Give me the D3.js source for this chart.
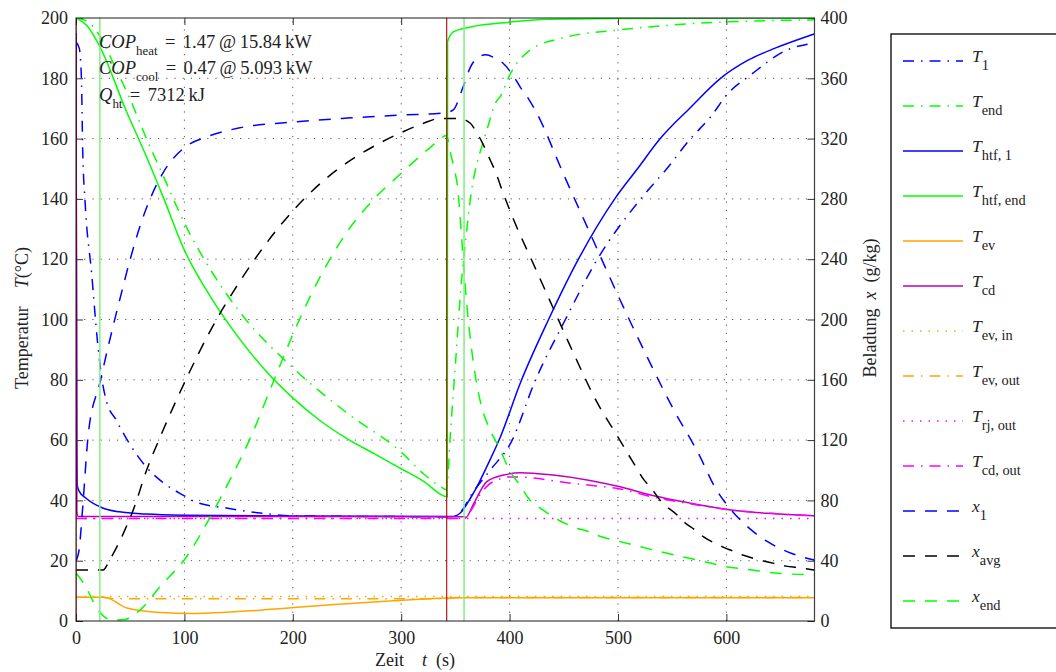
<!DOCTYPE html>
<html>
<head>
<meta charset="utf-8">
<script src="https://cdnjs.cloudflare.com/ajax/libs/d3/7.8.5/d3.min.js"></script>
<style>
  body { margin: 0; background: #fff; }
  svg text { font-family: "Liberation Serif", "DejaVu Serif", serif; fill: #222; }
</style>
</head>
<body>
<svg id="chart" width="1056" height="672"></svg>
<script>
// time axis ticks (s), temperature ticks (°C), loading ticks (g/kg)
const timeTicks = [0, 100, 200, 300, 400, 500, 600];
const tempTicks = [0, 20, 40, 60, 80, 100, 120, 140, 160, 180, 200];
const loadTicks = [0, 40, 80, 120, 160, 200, 240, 280, 320, 360, 400];

// phase markers (s)
const switchTimes = [0, 342];
const phaseTimes = [22, 358];

// temperatures [t (s), T (°C)]
const T_1 = [[0,192],[3,190],[5,180],[6.2,156],[8.3,139.6],[14.5,115],[20,92],[24,80],[28,73],[37,66.7],[49,59],[65,51],[80,46],[100,41.5],[110,39.5],[140,37.4],[170,35.8],[200,34.9],[340,34.6],[350,34.8],[355,36.2],[365,42],[382,50],[401,59],[424,80],[451.5,100],[481,120],[521,140],[545,150],[567,160],[585,167],[601,174.8],[622,181],[656,189.4],[681,191.7]];
const T_end = [[0,200],[10,199],[22,194],[37,183],[50,173],[65,160],[80,148],[100,132],[125,116],[150,103],[200,84],[250,69],[300,56],[320,49],[336,44.6],[342,43.5],[345,60],[350,85],[355,110],[360,128],[365,143],[370,152],[375,158],[380,164],[387,171.8],[391.5,174],[401,181.7],[419,189.4],[450,193.5],[500,196],[550,197.7],[600,198.7],[681,199.4]];
const T_htf1 = [[0,195],[0.7,60],[1.2,45],[3,43],[9,40.8],[24.6,37.5],[40,36.2],[64.6,35.5],[100,35.1],[200,34.8],[348,34.7],[355,36],[364,40.8],[372,46],[379,51.2],[391.5,61],[410,79],[436,100],[463.5,120],[497,140],[518,150],[539,160],[566,170],[594.6,180],[620,186],[645,190],[681,194.7]];
const T_htfEnd = [[0,200],[10,197.5],[22,190.5],[46,169.5],[65,154],[80,141],[100,123],[125,107],[150,94],[175,83],[200,74],[225,66.5],[250,60.5],[275,55.5],[300,50.5],[320,46.5],[342.5,41.2],[342.8,192.2],[348.5,195.5],[364,197],[400,198.6],[430,199.5],[500,199.8],[681,200]];
const T_ev = [[0,7.9],[25,7.9],[30,7.5],[47,4.3],[77.6,2.8],[108,2.5],[170,3.6],[231.5,5.3],[293,6.7],[342,7.6],[360,7.7],[681,7.7]];
const T_cd = [[0,195],[0.8,36],[2,34.7],[358,34.6],[359.5,34.3],[367,39],[379,46.2],[394.5,48.4],[410,49.2],[440,48.4],[471.6,46.8],[502,44.5],[530,41.8],[576,38.5],[601,37],[638,35.7],[681,34.9]];
const T_evIn = [[0,8.1],[681,8.1]];
const T_evOut = [[0,7.9],[25,7.9],[35,7.4],[342,7.4],[350,7.8],[681,7.8]];
const T_rjOut = [[0,34],[681,34]];
const T_cdOut = [[0,34],[358,34],[365,37],[372,41.5],[380,45],[390,47],[400,47.8],[420,47.5],[450,46],[480,44.8],[502,43.8],[530,41.3],[566,38.9],[600,37],[640,35.7],[681,34.9]];

// loadings [t (s), x (g/kg)]
const x_1 = [[0,40],[3,48],[6,73.6],[11.4,124.4],[22,158],[31,186],[41,215],[50,240],[60,264],[80,297],[100,314],[120,321],[150,327],[200,331],[250,333.6],[300,335.6],[340,337],[348,339],[357,354],[364,367.6],[371,374],[378,375.6],[386,373.6],[394,370],[404,361],[410,354],[416,348],[425,337],[450,296],[475,256],[500,216],[525,178],[550,142],[575,110],[590,88],[604,74],[621,61.6],[638,52.6],[656,46],[681,40.4]];
const x_avg = [[0,33.8],[25,33.8],[31,40.4],[43.6,58],[56,80],[62,93.6],[80,126],[100,158],[125,194],[150,224],[175,250],[200,272],[225,290],[250,304],[275,315],[300,324],[320,330],[336,333.4],[353,333.4],[364,330],[368,326],[375,317],[382,306],[387,298],[393,286],[405,264],[420,240],[440,208],[460,176],[480,146],[500,122],[515,104],[524,93.6],[530,88.8],[539,80],[555,70],[562,65],[570,61],[579,55.8],[587,52.4],[597,49],[606,46.4],[615,43.8],[624,41.8],[634,39.8],[643,38.4],[655,36.4],[666,35.4],[681,33.8]];
const x_end = [[0,31.8],[9,22.8],[18.5,9.4],[27.7,2],[35,0.6],[45,1],[59,7.2],[77.6,22.8],[102,42.6],[124,69.2],[142,93.6],[160,120],[180,155],[200,190],[225,228],[250,258],[275,280],[300,297],[320,310],[331.5,317],[342,322],[345,312],[348.5,301],[352,288],[356,252],[360,214],[365,180],[370,156],[375,140],[380,130],[391,114],[400,100],[410,89.6],[419,80],[430,74],[445,67],[462,61.6],[472,59.5],[484,56],[500,53],[521,49.2],[539,46],[556,43.2],[576,40],[597,36.4],[624,33.8],[643,32],[681,30.6]];

const DASHDOT = "11,7,1.5,7", DASH = "12,10", DOT = "1.5,7";
const series = [
  { data: T_1,      axis: "T", color: "#0000ff", dash: DASHDOT, base: "T", sub: "1" },
  { data: T_end,    axis: "T", color: "#00ff00", dash: DASHDOT, base: "T", sub: "end" },
  { data: T_htf1,   axis: "T", color: "#0000ff", dash: null,    base: "T", sub: "htf, 1" },
  { data: T_htfEnd, axis: "T", color: "#00ff00", dash: null,    base: "T", sub: "htf, end" },
  { data: T_ev,     axis: "T", color: "#ffa500", dash: null,    base: "T", sub: "ev" },
  { data: T_cd,     axis: "T", color: "#c000c0", dash: null,    base: "T", sub: "cd" },
  { data: T_evIn,   axis: "T", color: "#ffa500", dash: DOT,     base: "T", sub: "ev, in" },
  { data: T_evOut,  axis: "T", color: "#ffa500", dash: DASHDOT, base: "T", sub: "ev, out" },
  { data: T_rjOut,  axis: "T", color: "#ff00ff", dash: DOT,     base: "T", sub: "rj, out" },
  { data: T_cdOut,  axis: "T", color: "#ff00ff", dash: DASHDOT, base: "T", sub: "cd, out" },
  { data: x_1,      axis: "x", color: "#0000ff", dash: DASH,    base: "x", sub: "1" },
  { data: x_avg,    axis: "x", color: "#000000", dash: DASH,    base: "x", sub: "avg" },
  { data: x_end,    axis: "x", color: "#00ff00", dash: DASH,    base: "x", sub: "end" }
];

const L = 76, R = 814.5, TOP = 18, B = 621;
const FS = 18;
const svg = d3.select("#chart");
svg.append("rect").attr("width", 1056).attr("height", 672).attr("fill", "#fff");

const x = d3.scaleLinear().domain([0, 681.3]).range([L, R]);
const yT = d3.scaleLinear().domain([0, 200]).range([B, TOP]);
const yX = d3.scaleLinear().domain([0, 400]).range([B, TOP]);

svg.append("clipPath").attr("id", "plot").append("rect")
   .attr("x", L).attr("y", TOP).attr("width", R - L).attr("height", B - TOP);

// grid
const grid = svg.append("g").attr("stroke", "#555").attr("stroke-width", 1).attr("stroke-dasharray", "1.2,7");
grid.selectAll(".gx").data(timeTicks.filter(d => d > 0)).enter().append("line")
    .attr("x1", d => x(d)).attr("x2", d => x(d)).attr("y1", B).attr("y2", TOP);
grid.selectAll(".gy").data(tempTicks.filter(d => d > 0 && d < 200)).enter().append("line")
    .attr("y1", d => yT(d)).attr("y2", d => yT(d)).attr("x1", L).attr("x2", R);

// axes, ticks pointing inside
function styleAxis(g) {
  g.select(".domain").remove();
  g.selectAll(".tick line").attr("stroke", "#333").attr("stroke-width", 1);
  g.selectAll(".tick text").attr("font-family", "Liberation Serif").attr("font-size", FS).attr("fill", "#222");
}
svg.append("g").attr("transform", `translate(0,${B})`)
   .call(d3.axisBottom(x).tickValues(timeTicks).tickSizeInner(-7).tickSizeOuter(0).tickPadding(10))
   .call(styleAxis);
svg.append("g").attr("transform", `translate(0,${TOP})`)
   .call(d3.axisTop(x).tickValues(timeTicks).tickFormat("").tickSizeInner(-7).tickSizeOuter(0))
   .call(styleAxis);
svg.append("g").attr("transform", `translate(${L},0)`)
   .call(d3.axisLeft(yT).tickValues(tempTicks).tickSizeInner(-7).tickSizeOuter(0).tickPadding(8))
   .call(styleAxis);
svg.append("g").attr("transform", `translate(${R},0)`)
   .call(d3.axisRight(yX).tickValues(loadTicks).tickSizeInner(-7).tickSizeOuter(0).tickPadding(6))
   .call(styleAxis);

// series
const plot = svg.append("g").attr("clip-path", "url(#plot)");
series.forEach(s => {
  const yy = s.axis === "T" ? yT : yX;
  const line = d3.line().x(d => x(d[0])).y(d => yy(d[1])).curve(d3.curveMonotoneX);
  plot.append("path").datum(s.data)
      .attr("d", line)
      .attr("fill", "none")
      .attr("stroke", s.color)
      .attr("stroke-width", 1.5)
      .attr("stroke-dasharray", s.dash);
});

// phase markers
plot.selectAll(".sw").data(switchTimes).enter().append("line")
    .attr("x1", d => x(d)).attr("x2", d => x(d)).attr("y1", TOP).attr("y2", B)
    .attr("stroke", "#b00000").attr("stroke-width", 1.1);
plot.selectAll(".ph").data(phaseTimes).enter().append("line")
    .attr("x1", d => x(d)).attr("x2", d => x(d)).attr("y1", TOP).attr("y2", B)
    .attr("stroke", "#7ff07f").attr("stroke-width", 1.5);

// frame
svg.append("rect").attr("x", L).attr("y", TOP).attr("width", R - L).attr("height", B - TOP)
   .attr("fill", "none").attr("stroke", "#000").attr("stroke-width", 1.2).attr("stroke-opacity", 0.75);

// text helpers
function mathText(g, px, py, parts, size, subScale, subDrop) {
  const t = g.append("text").attr("x", px).attr("y", py).attr("font-size", size);
  let shift = 0;
  parts.forEach(p => {
    const dy = (p.sub ? subDrop : 0) - shift;
    shift += dy;
    t.append("tspan").attr("dy", dy)
     .attr("font-style", p.it ? "italic" : "normal")
     .attr("font-size", p.sub ? size * subScale : size)
     .text(p.s);
  });
  return t;
}

// annotations
const eq = "\u2009\u2009=\u2009\u2009";
mathText(svg, 99, 48, [{ s: "COP", it: true }, { s: "heat", sub: true }, { s: eq + "1.47\u2009@\u200915.84\u2009kW" }], 18.5, 0.7, 7);
mathText(svg, 99, 74, [{ s: "COP", it: true }, { s: "cool", sub: true }, { s: eq + "0.47\u2009@\u20095.093\u2009kW" }], 18.5, 0.7, 7);
mathText(svg, 99, 101, [{ s: "Q", it: true }, { s: "ht", sub: true }, { s: eq + "7312\u2009kJ" }], 18.5, 0.7, 7);

// axis titles
const xt = svg.append("text").attr("x", 415).attr("y", 666).attr("font-size", FS).attr("text-anchor", "middle");
xt.append("tspan").text("Zeit\u2003");
xt.append("tspan").attr("font-style", "italic").text("t");
xt.append("tspan").text("\u2002(s)");

const yt = svg.append("text").attr("transform", "translate(28,318) rotate(-90)").attr("font-size", FS).attr("text-anchor", "middle");
yt.append("tspan").text("Temperatur\u2003");
yt.append("tspan").attr("font-style", "italic").text("T");
yt.append("tspan").text("(°C)");

const rt = svg.append("text").attr("transform", "translate(876,308) rotate(-90)").attr("font-size", FS).attr("text-anchor", "middle");
rt.append("tspan").text("Beladung\u2002");
rt.append("tspan").attr("font-style", "italic").text("x");
rt.append("tspan").text("\u2002(g/kg)");

// legend
const leg = svg.append("g");
leg.append("rect").attr("x", 891).attr("y", 34).attr("width", 200).attr("height", 594)
   .attr("fill", "#fff").attr("stroke", "#000").attr("stroke-width", 1.3);
series.forEach((s, i) => {
  const cy = 61 + 45 * i;
  leg.append("line").attr("x1", 903).attr("x2", 963).attr("y1", cy).attr("y2", cy)
     .attr("stroke", s.color).attr("stroke-width", 1.5).attr("stroke-dasharray", s.dash);
  mathText(leg, 972, cy + 1, [{ s: s.base, it: true }, { s: s.sub, sub: true }], 17.5, 0.82, 8);
});
</script>
</body>
</html>
